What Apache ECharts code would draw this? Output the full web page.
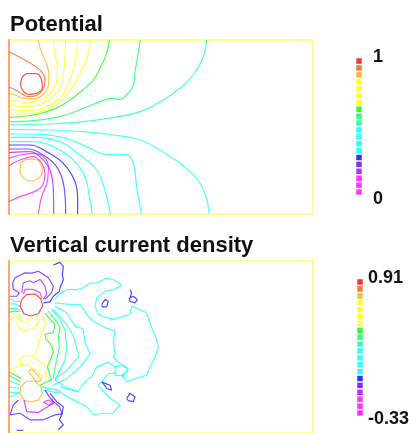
<!DOCTYPE html>
<html><head><meta charset="utf-8">
<style>html,body{margin:0;padding:0;background:#fff}#c{width:409px;height:433px}</style>
<script src="https://cdn.jsdelivr.net/npm/echarts@6/dist/echarts.min.js"></script>
</head><body><div id="c"></div>
<script>
// colour scale, top (high) to bottom (low)
const levelColors=['#ff0000','#ff5500','#ffaa00','#ffff00','#ffff00','#ffff00','#ffff00','#00ff00','#00ff55','#00ffaa','#00ffff','#00ffff','#00ffff','#00ffff','#0000ff','#5500ff','#aa00ff','#ff00ff','#ff00ff','#ff00ff'];
const levelIndex=levelColors.map((c,i)=>i);
const potentialTicks=['1','0'];
const currentTicks=['0.91','-0.33'];

// Potential contours
const p0=[[65,235],[82,221],[108,221],[124,238],[127,262],[110,280],[85,283],[66,268],[62,250],[65,235]];
const p1=[[27,155],[60,172],[95,192],[125,215],[135,240],[128,270],[108,287],[85,290],[60,278],[40,266],[27,262]];
const p2=[[115,120],[122,150],[137,185],[147,225],[145,258],[128,285],[100,297],[70,295],[45,285],[27,280]];
const p3=[[160,120],[163,155],[172,205],[170,245],[150,280],[120,300],[85,308],[50,303],[27,298]];
const p4=[[197,120],[195,165],[192,210],[180,262],[155,293],[120,312],[85,320],[50,318],[27,312]];
const p5=[[232,120],[230,160],[215,225],[190,280],[155,312],[115,328],[70,332],[27,328]];
const p6=[[272,120],[262,170],[240,220],[215,265],[180,305],[140,328],[90,341],[27,342]];
const p7=[[328,120],[320,160],[300,205],[280,240],[248,270],[210,300],[160,328],[100,345],[27,352]];
const p8=[[421,120],[413,170],[405,215],[400,255],[380,285],[360,298],[335,295],[300,305],[250,325],[180,350],[100,362],[27,365]];
const p9=[[620,120],[610,170],[580,225],[540,265],[490,300],[420,335],[340,352],[250,365],[150,372],[27,375]];
const p10=[[27,388],[150,390],[250,395],[340,405],[420,420],[480,450],[540,490],[590,535],[615,580],[628,642]];
const p11=[[27,402],[120,403],[200,415],[260,440],[320,463],[380,463],[400,490],[410,560],[424,642]];
const p12=[[27,412],[100,412],[180,425],[240,465],[290,510],[315,570],[331,642]];
const p13=[[27,425],[100,425],[160,440],[220,480],[255,530],[268,590],[277,642]];
const p14=[[27,435],[90,435],[140,455],[190,490],[225,545],[233,600],[233,642]];
const p15=[[27,447],[85,447],[130,465],[170,500],[192,560],[197,642]];
const p16=[[27,458],[90,455],[125,475],[150,510],[160,570],[161,642]];
const p17=[[115,642],[125,590],[143,540],[145,500],[130,470],[100,460],[60,465],[27,475]];
const p18=[[27,497],[60,480],[100,470],[125,490],[135,520],[125,560],[90,580],[60,590],[27,605]];
const p19=[[62,490],[80,478],[105,478],[122,490],[127,512],[115,535],[92,543],[72,535],[60,515],[62,490]];
const potentialContours=[[p0,0],[p1,1],[p2,2],[p3,3],[p4,4],[p5,5],[p6,6],[p7,7],[p8,8],[p9,9],[p10,10],[p11,11],[p12,12],[p13,13],[p14,14],[p15,15],[p16,16],[p17,17],[p18,18],[p19,2]];

// Vertical current density contours
const c0=[[65,225],[80,210],[105,208],[122,222],[128,245],[115,268],[92,275],[72,268],[60,245],[65,225]];
const c1=[[62,490],[80,473],[105,473],[122,490],[127,510],[115,530],[92,536],[72,530],[60,510],[62,490]];
const c2=[[135,224],[155,204],[160,184],[145,159],[125,145],[115,139],[95,145],[75,144],[45,159],[38,175],[40,194],[58,205],[50,215],[30,215]];
const c3=[[130,235],[150,232],[160,215],[178,200],[180,190],[190,165],[187,150],[190,125],[180,112],[160,120]];
const c4=[[65,204],[70,174],[90,168],[100,174],[120,164],[135,184],[140,209],[130,224]];
const c5=[[70,209],[75,194],[100,194],[120,204],[125,219]];
const c6=[[27,222],[40,228],[60,232]];
const c7=[[27,238],[45,238],[60,245]];
const c8=[[27,252],[45,252],[60,256]];
const c9=[[27,263],[45,260],[60,262]];
const c10=[[27,290],[40,280],[65,268]];
const c11=[[45,289],[65,319],[100,314],[115,294],[110,274]];
const c12=[[60,270],[55,285],[80,297],[95,275]];
const c13=[[125,272],[137,300],[125,325],[118,350],[112,375],[100,397],[75,395],[60,405],[62,425],[30,440]];
const c14=[[100,397],[115,410],[135,425],[140,460]];
const c15=[[135,265],[145,280],[165,300],[160,325],[135,330],[138,345],[155,365],[160,385],[150,410],[142,430],[155,470]];
const c16=[[145,260],[165,285],[180,310],[175,340],[178,370],[172,400],[165,430],[160,465]];
const c17=[[155,255],[180,285],[195,320],[200,370],[195,410],[180,440],[165,470]];
const c18=[[160,255],[200,300],[220,335],[235,390],[235,400],[200,440],[165,465]];
const c19=[[165,245],[200,265],[225,305],[250,315],[255,355],[270,390],[240,430],[200,465],[160,485]];
const c20=[[165,225],[175,210],[200,195],[230,195],[250,190],[270,175],[290,175],[320,160],[340,165],[360,175],[362,185],[340,195],[315,200],[290,220],[285,245],[295,270],[305,275],[340,285],[390,270],[395,245],[440,265],[455,310],[470,345],[475,370],[465,400],[450,430],[440,455],[420,460],[380,475],[365,455],[385,435],[365,425],[345,430],[325,415],[290,430],[275,460],[265,465],[250,480],[235,505],[195,490],[165,470]];
const c21=[[165,235],[210,240],[240,240],[260,270],[280,290],[315,310],[345,320],[340,350],[345,390],[340,400],[355,415],[385,435]];
const c22=[[345,430],[345,455],[370,455],[385,440]];
const c23=[[165,495],[210,525],[260,550],[280,575],[310,570],[340,570],[360,545],[345,535],[325,520],[295,485],[305,475],[325,450],[350,448]];
const c24=[[305,240],[315,225],[325,230],[320,247],[307,247],[305,240]];
const c25=[[390,195],[395,205],[390,220],[400,215],[412,225],[405,235],[390,230],[388,220]];
const c26=[[380,525],[390,510],[405,520],[400,535],[385,532],[380,525]];
const c27=[[305,475],[330,485],[335,500],[320,495],[310,480],[305,475]];
const c28=[[85,445],[95,435],[105,445],[125,470],[110,475],[90,450],[85,445]];
const c29=[[60,420],[85,425],[110,440],[130,465]];
const c30=[[27,445],[65,465]];
const c31=[[27,455],[62,475]];
const c32=[[27,470],[60,485]];
const c33=[[27,490],[58,495]];
const c34=[[27,505],[58,510]];
const c35=[[120,485],[155,468]];
const c36=[[125,490],[170,500]];
const c37=[[130,500],[180,510]];
const c38=[[55,530],[40,545],[30,575],[60,570],[90,590],[130,590],[165,575],[187,572],[178,550],[155,530],[135,500]];
const c39=[[150,510],[170,535],[190,550],[185,575],[178,590],[190,605],[175,620]];
const c40=[[72,530],[80,565],[115,568],[135,555],[160,540],[155,525]];
const c41=[[130,535],[145,530],[160,540],[145,545],[130,535]];
const c42=[[50,622],[70,622]];
const c43=[[27,520],[45,515],[60,505]];
const c44=[[180,490],[235,505]];
const currentContours=[[c0,0],[c1,2],[c2,15],[c3,14],[c4,16],[c5,17],[c6,11],[c7,10],[c8,9],[c9,7],[c10,6],[c11,5],[c12,4],[c13,5],[c14,5],[c15,7],[c16,8],[c17,9],[c18,10],[c19,11],[c20,12],[c21,12],[c22,12],[c23,13],[c24,14],[c25,14],[c26,14],[c27,14],[c28,2],[c29,3],[c30,7],[c31,8],[c32,9],[c33,10],[c34,11],[c35,7],[c36,10],[c37,11],[c38,15],[c39,14],[c40,16],[c41,17],[c42,15],[c43,13],[c44,12]];

const FONT='"Liberation Sans"';
const lineSeries=(list,g,smooth)=>list.map(([d,l])=>({type:'line',xAxisIndex:g,yAxisIndex:g,data:d,showSymbol:false,symbol:'none',silent:true,animation:false,smooth,
  lineStyle:{color:levelColors[l],width:1.2,opacity:0.7}}));
const legendSeries=g=>({type:'scatter',xAxisIndex:g,yAxisIndex:g,symbol:'rect',symbolSize:5.5,silent:true,animation:false,
  data:levelIndex.map(i=>({value:[0.5,i],itemStyle:{color:levelColors[i]}}))});
const plotAxis=(g,ymin)=>({
  x:{type:'value',gridIndex:g,min:27,max:939,show:true,axisLine:{show:false},axisTick:{show:false},axisLabel:{show:false},splitLine:{show:false}},
  y:{type:'value',gridIndex:g,min:ymin,max:ymin+522,inverse:true,axisLine:{show:true,onZero:false,lineStyle:{color:'#ffa477',width:2}},axisTick:{show:false},axisLabel:{show:false},splitLine:{show:false}}
});
const legAxis=g=>({
  x:{type:'value',gridIndex:g,min:0,max:1,show:false},
  y:{type:'value',gridIndex:g,min:0,max:19,inverse:true,show:false}
});
const a0=plotAxis(0,120),a1=plotAxis(1,108),a2=legAxis(2),a3=legAxis(3);
const frame={show:true,borderColor:'#ffff66',borderWidth:1.5,backgroundColor:'transparent'};
const txt=(text,left,top,size)=>({text,left,top,padding:0,textStyle:{fontFamily:FONT,fontWeight:'bold',fontSize:size,color:'#111'}});
const chart=echarts.init(document.getElementById('c'),null,{renderer:'canvas'});
chart.setOption({
  animation:false,backgroundColor:'#fff',
  title:[
    txt('Potential',10,14,22),
    txt('Vertical current density',10,235,22),
    txt(potentialTicks[0],373,48,18),
    txt(potentialTicks[1],373,190,18),
    txt(currentTicks[0],368,269,18),
    txt(currentTicks[1],368,410,18)
  ],
  grid:[
    Object.assign({left:9,top:40,width:304,height:174},frame),
    Object.assign({left:9,top:261,width:304,height:174},frame),
    {left:355,top:61,width:8,height:131,show:false},
    {left:356,top:282,width:8,height:131,show:false}
  ],
  xAxis:[a0.x,a1.x,a2.x,a3.x],
  yAxis:[a0.y,a1.y,a2.y,a3.y],
  series:[...lineSeries(potentialContours,0,0.4),...lineSeries(currentContours,1,false),legendSeries(2),legendSeries(3)]
});
</script></body></html>
